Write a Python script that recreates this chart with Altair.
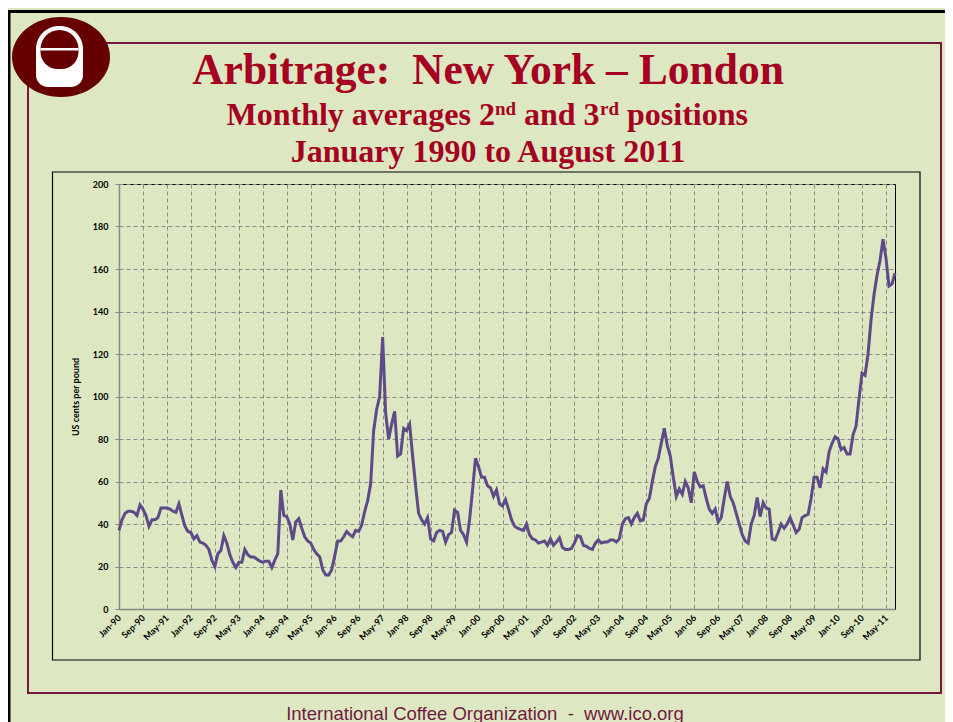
import altair as alt
import pandas as pd

# Monthly arbitrage NY - London, Jan 1990 .. Aug 2011 (US cents per pound)
values = [
    37, 42, 45, 46, 46, 45.5, 44, 49, 47, 44,
    39, 42, 42, 43, 47.5, 47.5, 47.5, 47, 46, 45.5,
    49.5, 44, 39, 36.5, 36, 33, 34.5, 31.5, 31, 30,
    28, 23, 20, 26, 27.5, 34.5, 31, 25.5, 22, 19.5,
    22, 22, 28, 25.5, 24.5, 24.5, 23.5, 22.5, 22, 22.5,
    22.5, 19.5, 23, 26, 56, 44, 43.5, 40, 32.5, 41,
    42.5, 38, 34, 32, 31, 28, 26, 24.5, 18.5, 16,
    16, 18.5, 25, 32, 32, 34, 36.5, 35, 34, 37,
    36.5, 39.5, 46, 51, 59, 84, 94, 100, 128, 92,
    80, 87, 93, 72, 73, 85, 84, 87, 72, 58,
    45, 42, 40, 43, 33, 32, 36, 37, 36.5, 31.5,
    35, 36, 46.5, 45.5, 37, 35, 31.5, 42, 56, 71,
    67, 62, 62, 58, 57, 53, 56, 49.5, 48.5, 51.5,
    47, 42, 39, 38, 37.5, 37, 40, 35, 33, 32.5,
    31, 31.5, 32, 30, 33, 30, 31.5, 33.5, 29, 28,
    28, 28.5, 31, 34.5, 34, 30, 29.5, 28.5, 28, 31,
    32.5, 31, 31.5, 31.5, 32.5, 32.5, 31.5, 33, 40, 42.5,
    43, 40, 43, 45, 41.5, 42, 49.5, 52, 60, 67,
    71, 78, 85, 77, 72, 62, 53, 56.5, 54, 60,
    57, 50, 64.5, 60, 57.5, 58, 52, 47, 45, 47,
    41, 43, 52, 60, 53, 50, 45, 40, 35, 32,
    31, 40, 44, 52.5, 43.5, 50, 47.5, 47, 33, 32.5,
    36, 40, 38, 40, 43, 39.5, 36, 37.5, 43, 44,
    44.5, 52, 62, 62, 57, 66, 64.5, 74, 78, 81,
    80, 75, 76, 73, 73, 82, 86, 99, 111, 110,
    120, 136, 148, 157, 164, 174, 165, 152, 153, 158,
]

tick_labels = [
    "Jan-90", "Sep-90", "May-91", "Jan-92", "Sep-92", "May-93", "Jan-94",
    "Sep-94", "May-95", "Jan-96", "Sep-96", "May-97", "Jan-98", "Sep-98",
    "May-99", "Jan-00", "Sep-00", "May-01", "Jan-02", "Sep-02", "May-03",
    "Jan-04", "Sep-04", "May-05", "Jan-06", "Sep-06", "May-07", "Jan-08",
    "Sep-08", "May-09", "Jan-10", "Sep-10", "May-11",
]
y_ticks = [0, 20, 40, 60, 80, 100, 120, 140, 160, 180, 200]

df = pd.DataFrame({"idx": list(range(len(values))), "value": values})

label_expr = "[" + ",".join(f"'{t}'" for t in tick_labels) + "][round(datum.value/8)]"

GREEN = "#DDE8C2"
MAROON = "#7A1740"
TITLE_RED = "#A50021"
LOGO = "#660000"

line = alt.Chart(df).mark_line(color="#5D4A87", strokeWidth=3).encode(
    x=alt.X(
        "idx:Q",
        scale=alt.Scale(domain=[0, len(values) - 1], nice=False, zero=False),
        axis=alt.Axis(
            values=list(range(0, 257, 8)),
            labelExpr=label_expr,
            title=None,
            labelAngle=-45,
            labelAlign="right",
            labelBaseline="middle",
            labelPadding=7,
            ticks=False,
            labelOverlap=False,
            labelFlush=False,
            grid=True,
        ),
    ),
    y=alt.Y(
        "value:Q",
        scale=alt.Scale(domain=[0, 200], nice=False),
        axis=alt.Axis(
            values=y_ticks,
            title="US cents per pound",
            titleFont="Lato",
            titleFontSize=9,
            titleFontWeight="bold",
            titleColor="black",
            titlePadding=12,
            ticks=True,
            tickSize=4,
            labelPadding=7,
            labelFlush=False,
            labelOverlap=False,
            grid=True,
        ),
    ),
)

one = alt.Data(values=[{"k": 0}])


def box(x1, y1, x2, y2, **kw):
    return alt.Chart(one).mark_rect(**kw).encode(
        x=alt.value(x1), x2=alt.value(x2), y=alt.value(y1), y2=alt.value(y2)
    )


def txt(s, x, y, **kw):
    return alt.Chart(one).mark_text(text=s, **kw).encode(x=alt.value(x), y=alt.value(y))


# page coords -> chart coords: cx = px - 119, cy = py - 184
outer = box(-110, -172.5, 830, 560, fillOpacity=0, stroke="black", strokeWidth=3)
frame = box(-91, -141, 822, 509, fillOpacity=0, stroke=MAROON, strokeWidth=2)
chartbox = box(-66.5, -12, 801, 476, fillOpacity=0, stroke="black", strokeWidth=1.2)

logo_ellipse = alt.Chart(one).mark_point(
    shape="M-1,0A1,0.816,0,1,1,1,0A1,0.816,0,1,1,-1,0Z",
    size=98 * 98, filled=True, fill=LOGO, opacity=1, strokeWidth=0,
).encode(x=alt.value(-58), y=alt.value(-127))
logo_cup = box(-83, -158, -36, -97, fill="white", strokeWidth=0,
               cornerRadiusTopLeft=23, cornerRadiusTopRight=23,
               cornerRadiusBottomLeft=12, cornerRadiusBottomRight=12)
logo_inner = box(-78.5, -154, -40.5, -115, fill=LOGO, strokeWidth=0,
                 cornerRadiusTopLeft=19, cornerRadiusTopRight=19,
                 cornerRadiusBottomLeft=17, cornerRadiusBottomRight=17)
logo_bar = box(-78.5, -136, -40.5, -133.5, fill="white", strokeWidth=0)

serif = dict(font="Liberation Serif", fontWeight="bold", color=TITLE_RED, baseline="alphabetic")
title = txt("Arbitrage:\u00a0 New York \u2013 London", 369, -100.5, fontSize=43.5, align="center", **serif)
sub1 = txt("Monthly averages 2", 107.5, -59, fontSize=32, align="left", **serif)
sub2 = txt("nd", 376, -69, fontSize=19, align="left", **serif)
sub3 = txt("and 3", 405, -59, fontSize=32, align="left", **serif)
sub4 = txt("rd", 481, -69, fontSize=19, align="left", **serif)
sub5 = txt("positions", 508, -59, fontSize=32, align="left", **serif)
line3 = txt("January 1990 to August 2011", 369, -22, fontSize=32, align="center", **serif)

footer = txt("International Coffee Organization\u00a0 -\u00a0 www.ico.org", 366, 535.5,
             font="Liberation Sans", fontSize=18.5, color="#701A3D", align="center",
             baseline="alphabetic")

chart = alt.layer(
    outer, frame, chartbox,
    title, sub1, sub2, sub3, sub4, sub5, line3, footer,
    line,
    logo_ellipse, logo_cup, logo_inner, logo_bar,
).properties(
    width=776,
    height=425,
    padding={"left": 111, "top": 176, "right": 50, "bottom": 113},
    autosize=alt.AutoSizeParams(type="none"),
).configure(
    background=GREEN,
).configure_view(
    stroke="black", strokeWidth=1, fill=None,
).configure_axis(
    gridColor="#8A8A8A",
    gridDash=[4, 3],
    gridWidth=1,
    domainColor="#868686",
    domainWidth=1.5,
    tickColor="#868686",
    labelFont="Lato",
    labelFontWeight="bold",
    labelFontSize=9,
    labelColor="black",
)

chart.save("out.html", embed_options={"renderer": "svg", "actions": False})
